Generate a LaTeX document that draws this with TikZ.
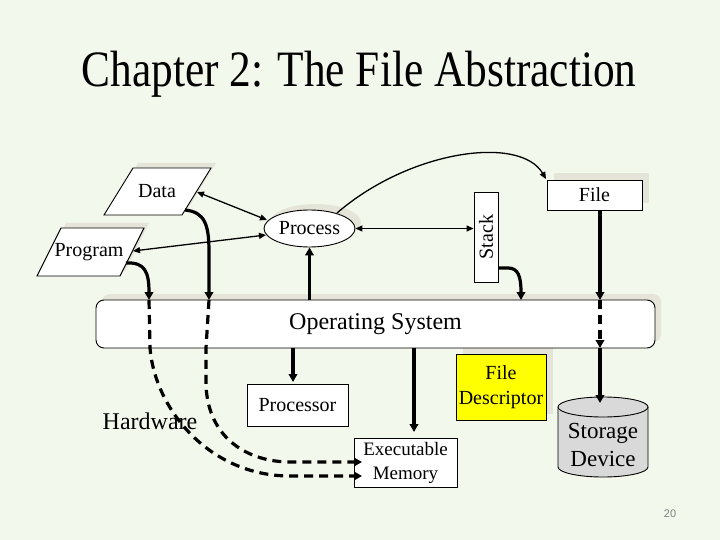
\documentclass[tikz,border=0pt]{standalone}
\usepackage{fontspec}
\setmainfont{Liberation Serif}
\newfontfamily\pgnumfont{Liberation Sans}
\usetikzlibrary{arrows.meta,shapes.geometric}
\definecolor{bgcol}{HTML}{F3F8EC}
\definecolor{shadowcol}{HTML}{E4E4D8}
\definecolor{fdyellow}{HTML}{FFFF00}
\definecolor{storagegray}{HTML}{D9D9D9}
\definecolor{pagegray}{HTML}{7F7F7F}
\begin{document}
\begin{tikzpicture}[x=1pt,y=-1pt,
  txt20/.style={font=\fontsize{20}{24}\selectfont},
  box/.style={draw, line width=0.9pt, fill=white, inner sep=0pt, txt20},
  outl/.style={draw, line width=0.9pt, fill=white},
  thinboth/.style={line width=1.3pt, {Triangle[length=7pt,width=6pt]}-{Triangle[length=7pt,width=6pt]}},
  thinarr/.style={line width=1.3pt, -{Triangle[length=7pt,width=6pt]}},
  thickarr/.style={line width=3.2pt, -{Triangle[length=8pt,width=8.5pt]}},
  thickline/.style={line width=3.2pt},
  dashline/.style={line width=3.2pt, dash pattern=on 9pt off 6pt}]
\fill[bgcol] (0,0) rectangle (720,540);
\useasboundingbox (0,0) rectangle (720,540);

% title
\node[anchor=base, inner sep=0pt, font=\fontsize{51}{58}\selectfont] (title) at (359,87) {\scalebox{0.85}[1]{Chapter 2: The File Abstraction}};

% shadows
\fill[shadowcol] (138,163) -- (216,163) -- (187,210) -- (109,210) -- cycle;
\fill[shadowcol] (66,223) -- (149,223) -- (125,271) -- (42,271) -- cycle;
\fill[shadowcol] (315.5,222.5) ellipse [x radius=45.5, y radius=18.5];
\fill[shadowcol] (554,173) rectangle (649,203);
\fill[shadowcol, rounded corners=8pt] (102,294) rectangle (661,342);
\fill[shadowcol] (463,348) rectangle (553,414);

% Data and Program parallelograms
\filldraw[outl] (133,168) -- (211,168) -- (182,215) -- (104,215) -- cycle;
\node[txt20] (data) at (157,191) {Data};
\filldraw[outl] (61,228) -- (144,228) -- (120,276) -- (37,276) -- cycle;
\node[txt20] (program) at (89,252) {Program};

% Process
\node[ellipse, draw, line width=0.9pt, fill=white, minimum width=91pt, minimum height=37pt, inner sep=0pt, txt20] (process) at (309.5,228.5) {Process};

% Stack
\node[box, minimum width=24pt, minimum height=90pt] (stack) at (486,237) {\rotatebox{90}{Stack}};

% File
\node[box, minimum width=95pt, minimum height=30pt] (file) at (594.5,195) {File};

% Operating System
\node[draw, line width=0.9pt, fill=white, rounded corners=8pt, minimum width=559pt, minimum height=48pt, font=\fontsize{24}{28}\selectfont] (os) at (375.5,324) {Operating System};

% Processor
\node[box, minimum width=101pt, minimum height=42pt] (processor) at (297.5,405) {Processor};

% Executable Memory
\node[box, minimum width=103pt, minimum height=49pt, align=center, font=\fontsize{19}{24}\selectfont] (exec) at (405.5,462.5) {Executable\\Memory};

% File Descriptor
\node[box, fill=fdyellow, minimum width=90pt, minimum height=66pt, align=center, font=\fontsize{20}{25}\selectfont] (fd) at (501,387) {File\\Descriptor};

% Storage Device cylinder
\fill[storagegray] (558,407) -- (558,467) arc[start angle=180, end angle=0, x radius=45, y radius=10] -- (648,407) -- cycle;
\draw[line width=0.9pt] (558,407) -- (558,467) arc[start angle=180, end angle=0, x radius=45, y radius=10] -- (648,407);
\filldraw[fill=storagegray, line width=0.9pt] (603,407) ellipse [x radius=45, y radius=10];
\node[align=center, font=\fontsize{23}{28}\selectfont] (storage) at (603,445) {Storage\\Device};

% Hardware label
\node[font=\fontsize{24}{28}\selectfont] (hardware) at (150,421) {Hardware};

% page number
\node[font=\pgnumfont\fontsize{11}{13}\selectfont, text=pagegray] (pgnum) at (670,514) {20};

% connection points
\coordinate (dataR) at (197,192);
\coordinate (progR) at (133,251);
\coordinate (procL1) at (267,220);
\coordinate (procL2) at (266,235);
\coordinate (procTop) at (337,213);
\coordinate (fileTL) at (546,179);
\coordinate (stackR) at (498,268);
\coordinate (osStack) at (521,300);
\coordinate (fileS) at (600,210);
\coordinate (osFileT) at (600,300);
\coordinate (osFileB) at (600,348);
\coordinate (storTop) at (600,403);
\coordinate (progC) at (126,263);
\coordinate (dataC) at (185,210);
\coordinate (osProgT) at (149,300);
\coordinate (osProgB) at (150,348);
\coordinate (osDataT) at (209,300);
\coordinate (osDataB) at (206,348);
\coordinate (memA) at (362,476);
\coordinate (memB) at (362,462);
\coordinate (osProcB) at (293,348);
\coordinate (procrT) at (293,382);
\coordinate (osExecB) at (414,348);
\coordinate (execT) at (414,432);

% thin connectors
\draw[thinboth] (dataR) -- (procL1);
\draw[thinboth] (progR) -- (procL2);
\draw[thinboth] (process.east) -- (process.east -| stack.west);
\draw[thinarr] (procTop) .. controls (410,150) and (520,135) .. (fileTL);

% thick connectors
\draw[thickarr] (process.south |- os.north) -- (process.south);
\draw[thickarr] (stackR) -- (508,268) .. controls (518,268) and (521,276) .. (osStack);
\draw[thickarr] (fileS) -- (osFileT);
\draw[dashline, -{Triangle[length=8pt,width=8.5pt]}] (osFileT) -- (osFileB);
\draw[thickarr] (osFileB) -- (storTop);
\draw[thickarr] (progC) .. controls (145,262) and (149,272) .. (osProgT);
\draw[thickarr] (dataC) .. controls (205,212) and (209,225) .. (209,252) -- (osDataT);
\draw[thickarr] (osProcB) -- (procrT);
\draw[thickarr] (osExecB) -- (execT);

% dashed hardware paths
\draw[dashline, -{Triangle[length=8pt,width=8.5pt]}] (osProgT) -- (osProgB) .. controls (155,410) and (210,476) .. (290,476) -- (memA);
\draw[dashline, -{Triangle[length=8pt,width=8.5pt]}] (osDataT) -- (osDataB) -- (206,385) .. controls (208,440) and (250,462) .. (290,462) -- (memB);
\end{tikzpicture}
\end{document}
